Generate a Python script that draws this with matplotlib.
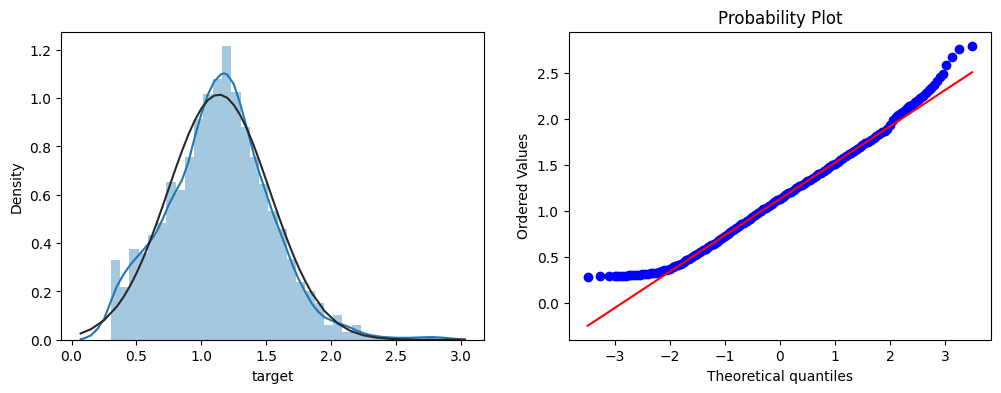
import numpy as np
import matplotlib
matplotlib.use("Agg")
import matplotlib.pyplot as plt

# histogram of target (density), 35 equal bins between the data min and max
hist_min, hist_max, n_bins = 0.303, 2.80, 35
hist_density = [0.331, 0.220, 0.376, 0.361, 0.434, 0.485, 0.651, 0.618, 0.758, 0.913,
                1.018, 1.078, 1.216, 1.027, 0.880, 0.758, 0.645, 0.531, 0.458, 0.334,
                0.241, 0.200, 0.152, 0.062, 0.103, 0.034, 0.062, 0.020, 0.010, 0.005,
                0.005, 0.000, 0.005, 0.005, 0.012]

# kde curve
kde_x = [0.07, 0.10, 0.15, 0.20, 0.25, 0.30, 0.35, 0.40, 0.45, 0.50, 0.55, 0.60, 0.65,
         0.70, 0.75, 0.80, 0.85, 0.90, 0.95, 1.00, 1.05, 1.10, 1.15, 1.175, 1.20, 1.25,
         1.30, 1.35, 1.40, 1.45, 1.50, 1.55, 1.60, 1.65, 1.70, 1.75, 1.80, 1.85, 1.90,
         1.95, 2.00, 2.05, 2.10, 2.15, 2.20, 2.25, 2.30, 2.40, 2.50, 2.60, 2.70, 2.78,
         2.85, 2.95, 3.03]
kde_y = [0.002, 0.006, 0.018, 0.045, 0.085, 0.155, 0.222, 0.270, 0.308, 0.340, 0.370,
         0.403, 0.442, 0.497, 0.560, 0.612, 0.660, 0.735, 0.840, 0.935, 1.015, 1.070,
         1.098, 1.103, 1.097, 1.058, 0.975, 0.878, 0.775, 0.685, 0.605, 0.525, 0.455,
         0.385, 0.312, 0.250, 0.198, 0.150, 0.116, 0.093, 0.080, 0.070, 0.060, 0.050,
         0.037, 0.027, 0.019, 0.011, 0.008, 0.008, 0.010, 0.011, 0.009, 0.004, 0.001]

# fitted normal curve
fit_x = [0.07, 0.15, 0.25, 0.35, 0.40, 0.45, 0.50, 0.55, 0.60, 0.65, 0.70, 0.75, 0.80,
         0.85, 0.90, 0.95, 1.00, 1.05, 1.10, 1.15, 1.20, 1.25, 1.30, 1.35, 1.40, 1.45,
         1.50, 1.55, 1.60, 1.65, 1.70, 1.75, 1.80, 1.85, 1.95, 2.05, 2.15, 2.25, 2.35,
         2.45, 2.55, 2.65, 2.80, 3.03]
fit_y = [0.0258, 0.0439, 0.0804, 0.138, 0.1765, 0.222, 0.275, 0.335, 0.402, 0.474,
         0.550, 0.628, 0.706, 0.780, 0.849, 0.909, 0.957, 0.992, 1.011, 1.014, 1.001,
         0.972, 0.929, 0.874, 0.809, 0.736, 0.659, 0.581, 0.504, 0.430, 0.361, 0.298,
         0.243, 0.194, 0.118, 0.0675, 0.0361, 0.0181, 0.0085, 0.0038, 0.0016, 0.0006,
         0.0001, 0.0]

# probability plot: theoretical quantiles vs ordered values
qq_x = [-3.49, -3.26, -3.10, -3.00,
        -2.95, -2.90, -2.85, -2.80, -2.75, -2.70, -2.65, -2.60, -2.55, -2.50, -2.45,
        -2.40, -2.35, -2.30, -2.25, -2.20, -2.15, -2.10, -2.05, -2.00, -1.95, -1.90,
        -1.85, -1.80, -1.75, -1.70, -1.65, -1.60, -1.55, -1.50, -1.45, -1.40, -1.35,
        -1.30, -1.25, -1.20, -1.15, -1.10, -1.05, -1.00, -0.95, -0.90, -0.85, -0.80,
        -0.75, -0.70, -0.65, -0.60, -0.55, -0.50, -0.45, -0.40, -0.35, -0.30, -0.25,
        -0.20, -0.15, -0.10, -0.05, 0.00, 0.05, 0.10, 0.15, 0.20, 0.25, 0.30, 0.35,
        0.40, 0.45, 0.50, 0.55, 0.60, 0.65, 0.70, 0.75, 0.80, 0.85, 0.90, 0.95, 1.00,
        1.05, 1.10, 1.15, 1.20, 1.25, 1.30, 1.35, 1.40, 1.45, 1.50, 1.55, 1.60, 1.65,
        1.70, 1.75, 1.80, 1.85, 1.90, 1.95, 2.00, 2.05, 2.10, 2.15, 2.20, 2.25, 2.30,
        2.35, 2.40, 2.45, 2.50, 2.55, 2.60, 2.65, 2.70, 2.75, 2.80, 2.85, 2.90,
        2.96, 3.02, 3.12, 3.25, 3.49]
qq_y = [0.283, 0.289, 0.294, 0.296,
        0.297, 0.297, 0.298, 0.299, 0.300, 0.302, 0.304, 0.306, 0.308, 0.311, 0.315,
        0.319, 0.323, 0.327, 0.332, 0.338, 0.346, 0.355, 0.364, 0.375, 0.387, 0.400,
        0.414, 0.430, 0.448, 0.466, 0.484, 0.502, 0.520, 0.538, 0.555, 0.572, 0.589,
        0.607, 0.626, 0.645, 0.665, 0.686, 0.707, 0.729, 0.750, 0.771, 0.792, 0.813,
        0.834, 0.855, 0.876, 0.897, 0.918, 0.938, 0.959, 0.979, 0.999, 1.019, 1.039,
        1.058, 1.078, 1.097, 1.116, 1.135, 1.154, 1.173, 1.193, 1.212, 1.231, 1.250,
        1.269, 1.288, 1.306, 1.325, 1.343, 1.362, 1.381, 1.401, 1.420, 1.440, 1.460,
        1.479, 1.499, 1.518, 1.538, 1.557, 1.577, 1.597, 1.617, 1.637, 1.658, 1.678,
        1.698, 1.718, 1.737, 1.757, 1.777, 1.797, 1.818, 1.838, 1.857, 1.876, 1.895,
        1.935, 1.990, 2.020, 2.045, 2.070, 2.095, 2.120, 2.142, 2.160, 2.185, 2.210,
        2.228, 2.255, 2.285, 2.315, 2.345, 2.375, 2.415, 2.455,
        2.49, 2.59, 2.68, 2.76, 2.80]

# least squares line of the probability plot
fit_line_x = [-3.49, 3.49]
fit_line_y = [-0.247, 2.511]

fig, (ax1, ax2) = plt.subplots(1, 2, figsize=(12, 4))

edges = np.linspace(hist_min, hist_max, n_bins + 1)
ax1.bar(edges[:-1], hist_density, width=np.diff(edges), align="edge",
        color="#1f77b4", alpha=0.4, linewidth=0)
ax1.plot(kde_x, kde_y, color="#1f77b4", lw=1.5)
ax1.plot(fit_x, fit_y, color="#282828", lw=1.5)
ax1.set_xlim(-0.079, 3.177)
ax1.set_ylim(0, 1.275)
ax1.set_xlabel("target")
ax1.set_ylabel("Density")

ax2.plot(qq_x, qq_y, "bo")
ax2.plot(fit_line_x, fit_line_y, "r-")
ax2.set_title("Probability Plot")
ax2.set_xlabel("Theoretical quantiles")
ax2.set_ylabel("Ordered Values")

plt.savefig("out.png", dpi=100, bbox_inches="tight")
